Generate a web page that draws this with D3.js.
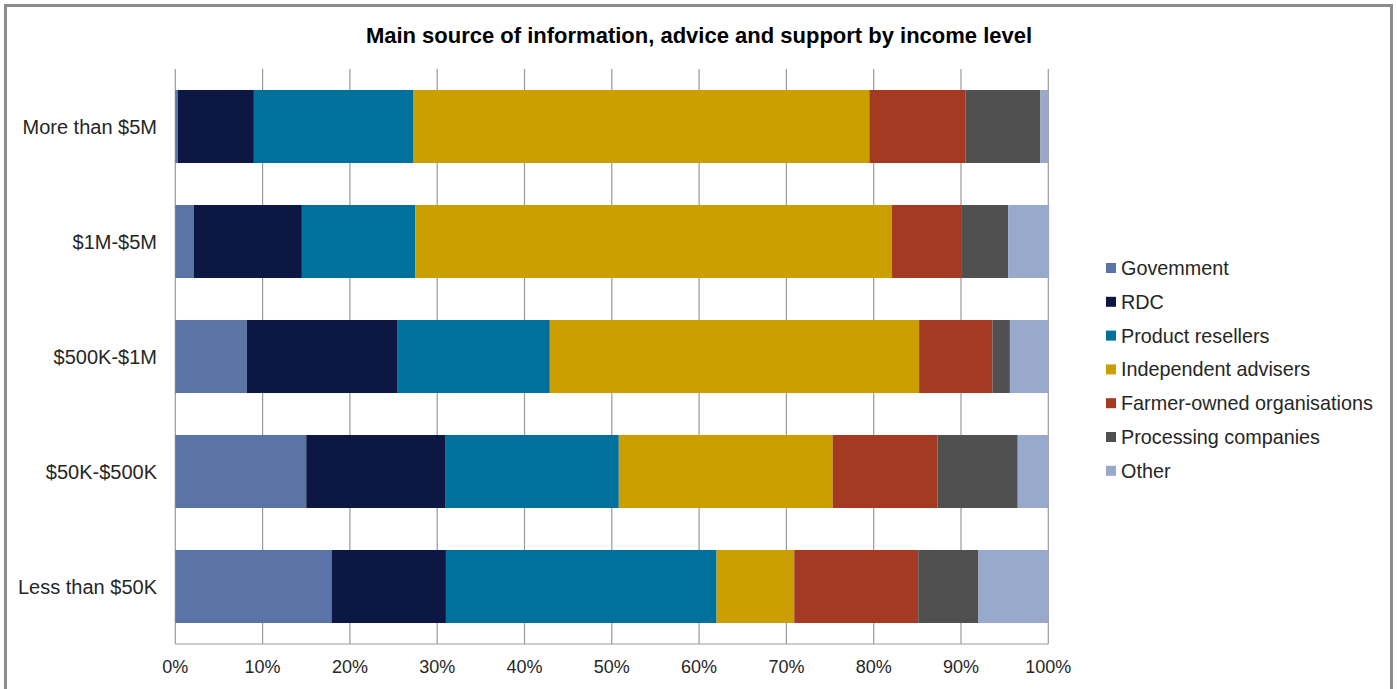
<!DOCTYPE html>
<html>
<head>
<meta charset="utf-8">
<script src="https://cdn.jsdelivr.net/npm/d3@7"></script>
<style>
html,body{margin:0;padding:0;background:#fff;}
svg{display:block;}
text{font-family:"Liberation Sans",Arial,sans-serif;}
</style>
</head>
<body>
<svg id="chart" width="1397" height="689"></svg>
<script>
const title = "Main source of information, advice and support by income level";
const categories = ["More than $5M", "$1M-$5M", "$500K-$1M", "$50K-$500K", "Less than $50K"];
const seriesNames = ["Govemment", "RDC", "Product resellers", "Independent advisers", "Farmer-owned organisations", "Processing companies", "Other"];
const seriesColors = ["#5a74a8", "#0d1743", "#00719c", "#cc9f00", "#a53a23", "#505050", "#98a9cc"];
// values per category (% share), in series order
const government          = [0.3, 2.1, 8.2, 15.0, 17.9];
const rdc                 = [8.7, 12.4, 17.2, 15.9, 13.1];
const productResellers    = [18.3, 13.0, 17.5, 19.9, 31.0];
const independentAdvisers = [52.2, 54.6, 42.3, 24.5, 8.9];
const farmerOwned         = [11.0, 8.0, 8.4, 12.0, 14.2];
const processing          = [8.6, 5.3, 2.0, 9.2, 6.9];
const other               = [0.9, 4.7, 4.4, 3.5, 8.0];
const xTicks = [0, 10, 20, 30, 40, 50, 60, 70, 80, 90, 100];

(function () {
const seriesValues = [government, rdc, productResellers, independentAdvisers, farmerOwned, processing, other];
const rows = categories.map((c, i) => {
  const r = {category: c};
  seriesNames.forEach((s, j) => r[s] = seriesValues[j][i]);
  return r;
});

const svg = d3.select("#chart");
// outer frame
svg.append("rect").attr("x", 5.5).attr("y", 5.5).attr("width", 1386).attr("height", 690)
  .attr("fill", "#fff").attr("stroke", "#8c8c8c").attr("stroke-width", 3);

const pLeft = 175.3, pRight = 1048.3, pTop = 69, pBottom = 644;
const x = d3.scaleLinear().domain([0, 100]).range([pLeft, pRight]);
const y = d3.scaleBand().domain(categories).range([pTop, pBottom]).paddingInner(0.365).paddingOuter(0.1825);

// gridlines
svg.append("g").selectAll("line").data(xTicks).join("line")
  .attr("x1", d => x(d)).attr("x2", d => x(d)).attr("y1", pTop).attr("y2", pBottom)
  .attr("stroke", "#9a9a9a").attr("stroke-width", 1.2);
svg.append("line").attr("x1", pLeft).attr("x2", pRight).attr("y1", pBottom).attr("y2", pBottom)
  .attr("stroke", "#9a9a9a").attr("stroke-width", 1.2);

const stack = d3.stack().keys(seriesNames)(rows);
svg.append("g").selectAll("g").data(stack).join("g")
  .attr("fill", (d, i) => seriesColors[i])
  .selectAll("rect").data(d => d).join("rect")
  .attr("x", d => x(d[0])).attr("width", d => x(d[1]) - x(d[0]))
  .attr("y", d => y(d.data.category)).attr("height", y.bandwidth());

// title
svg.append("text").attr("x", 699).attr("y", 43).attr("text-anchor", "middle")
  .attr("font-size", 22).attr("font-weight", "bold").attr("fill", "#000").text(title);

// y labels
svg.append("g").selectAll("text").data(categories).join("text")
  .attr("x", 157).attr("y", d => y(d) + y.bandwidth() / 2 + 7)
  .attr("text-anchor", "end").attr("font-size", 20).attr("fill", "#262626").text(d => d);

// x tick labels
svg.append("g").selectAll("text").data(xTicks).join("text")
  .attr("x", d => x(d)).attr("y", 673).attr("text-anchor", "middle")
  .attr("font-size", 18).attr("fill", "#262626").text(d => d + "%");

// legend
const lg = svg.append("g").selectAll("g").data(seriesNames).join("g")
  .attr("transform", (d, i) => `translate(1106, ${268 + i * 33.8})`);
lg.append("rect").attr("x", 0).attr("y", -5).attr("width", 10).attr("height", 10)
  .attr("fill", (d, i) => seriesColors[i]);
lg.append("text").attr("x", 15).attr("y", 7).attr("font-size", 19.8).attr("fill", "#262626").text(d => d);
})();
</script>
</body>
</html>
